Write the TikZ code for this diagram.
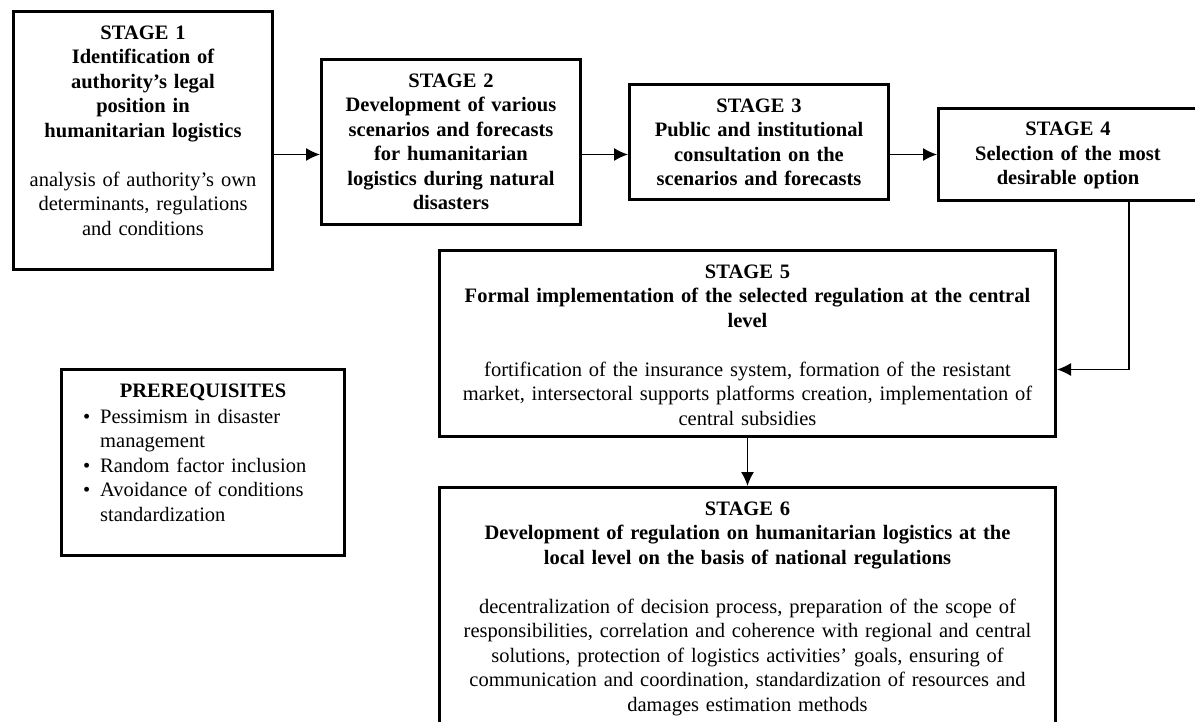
\documentclass[tikz,border=0pt]{standalone}
\usepackage{fontspec}
\setmainfont{Liberation Serif}
\usepackage{tikz}
\usetikzlibrary{arrows.meta, positioning}

\begin{document}
\begin{tikzpicture}[x=1pt, y=-1pt,
		stagebox/.style={draw, line width=2.6pt, minimum width=259.4pt, inner sep=0pt},
		stagetext/.style={font=\fontsize{20.5pt}{24.5pt}\selectfont, align=center, inner sep=0pt},
		conn/.style={line width=1.3pt, -{Latex[length=14pt, width=13pt]}}]
			\useasboundingbox (0,0) rectangle (1195,722);
			\clip (0,0) rectangle (1195,722);
			\node[stagebox, minimum height=258.4pt] (s1) at (143,140.5) {};
			\node[stagebox, minimum height=165.4pt] (s2) at (451,142) {};
			\node[stagebox, minimum height=115.4pt] (s3) at (759,142) {};
			\node[stagebox, minimum height=92.4pt] (s4) at (1068,154.5) {};
			\node[stagebox, minimum width=616.4pt, minimum height=186.4pt] (s5) at (747.5,343.5) {};
			\node[stagebox, minimum width=616.4pt, minimum height=247.4pt] (s6) at (747.5,611) {};
			\node[stagebox, minimum width=283.4pt, minimum height=186.4pt] (pre) at (203,462.5) {};
			\node[stagetext, text width=250pt, below=15.5pt of s1.north] (t1) {\textbf{STAGE 1\\Identification of\\authority's legal\\position in\\humanitarian logistics}\\[24.5pt]analysis of authority's own\\determinants, regulations\\and conditions};
			\node[stagetext, text width=250pt, below=15.5pt of s2.north] (t2) {\textbf{STAGE 2\\Development of various\\scenarios and forecasts\\for humanitarian\\logistics during natural\\disasters}};
			\node[stagetext, text width=250pt, below=15.5pt of s3.north] (t3) {\textbf{STAGE 3\\Public and institutional\\consultation on the\\scenarios and forecasts}};
			\node[stagetext, text width=250pt, below=15pt of s4.north] (t4) {\textbf{STAGE 4\\Selection of the most\\desirable option}};
			\node[stagetext, text width=610pt, below=15.5pt of s5.north] (t5) {\textbf{STAGE 5\\Formal implementation of the selected regulation at the central\\level}\\[24.5pt]fortification of the insurance system, formation of the resistant\\market, intersectoral supports platforms creation, implementation of\\central subsidies};
			\node[stagetext, text width=610pt, below=15.5pt of s6.north] (t6) {\textbf{STAGE 6\\Development of regulation on humanitarian logistics at the\\local level on the basis of national regulations}\\[24.5pt]decentralization of decision process, preparation of the scope of\\responsibilities, correlation and coherence with regional and central\\solutions, protection of logistics activities' goals, ensuring of\\communication and coordination, standardization of resources and\\damages estimation methods};
			\node[stagetext, text width=270pt, below=15.5pt of pre.north] (pretitle) {\textbf{PREREQUISITES}};
			\node[stagetext, text width=255pt, align=left, anchor=north west] (prelist) at (83,409) {\makebox[17pt][l]{\textbullet}Pessimism in disaster\\\hspace*{17pt}management\\\makebox[17pt][l]{\textbullet}Random factor inclusion\\\makebox[17pt][l]{\textbullet}Avoidance of conditions\\\hspace*{17pt}standardization};
			\draw[conn] (s1.east |- s4) -- (s2.west |- s4);
			\draw[conn] (s2.east |- s4) -- (s3.west |- s4);
			\draw[conn] (s3.east |- s4) -- (s4);
			\draw[conn] ([xshift=61pt]s4.south) |- ([yshift=-26pt]s5.east);
			\draw[conn] (s5) -- (s6);
		\end{tikzpicture}
\end{document}
